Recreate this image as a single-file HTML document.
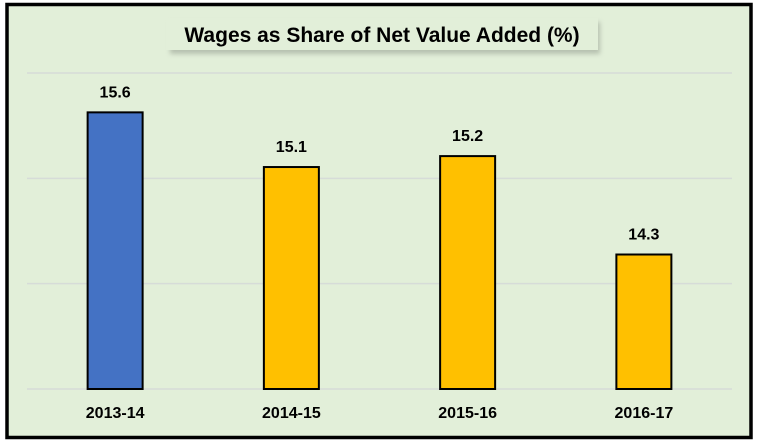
<!DOCTYPE html>
<html><head><meta charset="utf-8"><style>
html,body{margin:0;padding:0;background:#fff;width:763px;height:446px;overflow:hidden}
</style></head><body>
<svg id="chart" width="763" height="446" xmlns="http://www.w3.org/2000/svg" font-family="'Liberation Sans', sans-serif">
<defs><filter id="sh" x="-10%" y="-50%" width="120%" height="200%"><feGaussianBlur stdDeviation="2.5"/></filter></defs>
<rect x="7" y="4.5" width="744" height="433" fill="#e2efd9" stroke="#000" stroke-width="3.5"/>
<rect x="170" y="22" width="430" height="32" fill="#9aa294" opacity="0.6" filter="url(#sh)"/>
<rect x="166" y="18" width="432" height="32" fill="#e2efd9"/>
<text x="382" y="42" text-anchor="middle" font-size="21" font-weight="bold" fill="#000">Wages as Share of Net Value Added (%)</text>
<g id="grid"></g>
<g id="bars"></g>
</svg>
<script>
const categories = ["2013-14","2014-15","2015-16","2016-17"];
const values = [15.6,15.1,15.2,14.3];
const colors = ["#4472c4","#ffc000","#ffc000","#ffc000"];
const NS="http://www.w3.org/2000/svg";
const yMin=13.07,yMax=15.96,yTop=73,yBase=389,xLeft=27,xRight=732;
function yS(v){return yBase-(v-yMin)/(yMax-yMin)*(yBase-yTop);}
function xc(i){return xLeft+(xRight-xLeft)*(i+0.5)/categories.length;}
const grid=document.getElementById('grid'),bars=document.getElementById('bars');
for(let k=0;k<4;k++){
  const v=yMin+(yMax-yMin)*k/3;
  const l=document.createElementNS(NS,'line');
  
  
  l.setAttribute('x1',xLeft);l.setAttribute('x2',xRight);
  l.setAttribute('y1',yS(v));l.setAttribute('y2',yS(v));
  l.setAttribute('stroke','#d6dcd8');l.setAttribute('stroke-width','1.5');
  grid.appendChild(l);
}
const bw=55;
categories.forEach((c,i)=>{
  const r=document.createElementNS(NS,'rect');
  
  
  r.setAttribute('x',xc(i)-bw/2);r.setAttribute('y',yS(values[i]));
  r.setAttribute('width',bw);r.setAttribute('height',yBase-yS(values[i]));
  r.setAttribute('fill',colors[i]);r.setAttribute('stroke','#000');r.setAttribute('stroke-width','2');
  bars.appendChild(r);
  const t=document.createElementNS(NS,'text');
  
  
  t.setAttribute('x',xc(i));t.setAttribute('y',yS(values[i])-15);
  t.setAttribute('text-anchor','middle');t.setAttribute('font-size','16');t.setAttribute('font-weight','bold');
  t.textContent=values[i].toFixed(1);
  bars.appendChild(t);
  const a=document.createElementNS(NS,'text');
  
  
  a.setAttribute('x',xc(i));a.setAttribute('y',418);
  a.setAttribute('text-anchor','middle');a.setAttribute('font-size','16');a.setAttribute('font-weight','bold');
  a.textContent=c;
  bars.appendChild(a);
});
</script>
</body></html>
